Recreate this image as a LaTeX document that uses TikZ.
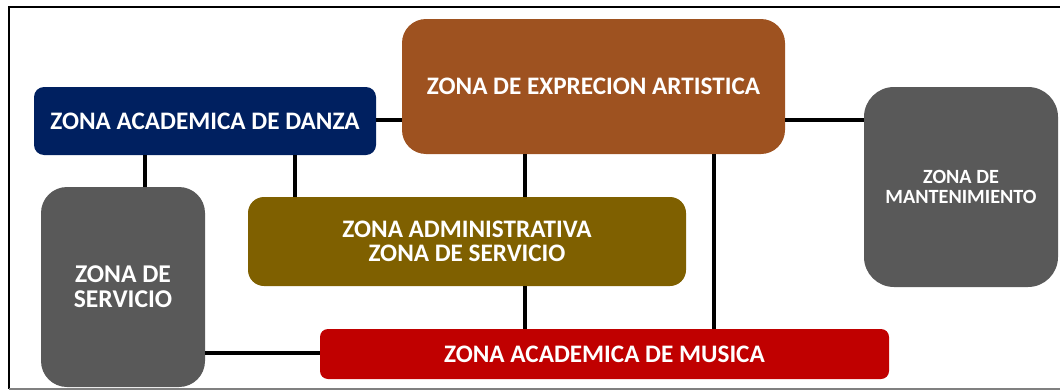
\documentclass[tikz,border=0pt]{standalone}
\usepackage{fontspec}
\setmainfont{Carlito}
\definecolor{danzablue}{HTML}{002060}
\definecolor{exprbrown}{HTML}{9E5220}
\definecolor{adminolive}{HTML}{7F6000}
\definecolor{musicred}{HTML}{C00000}
\definecolor{zonegray}{HTML}{595959}

\begin{document}
\begin{tikzpicture}[x=0.5pt,y=-0.5pt,
    zone/.style={inner sep=0pt, align=center, text=white, font=\fontsize{12.6}{12}\selectfont\bfseries},
    link/.style={black, line width=2pt}]
  \useasboundingbox (0,0) rectangle (1060,391);
  \draw [black, line width=1pt]    (1070,7) -- (9,7) -- (9,389);
  \draw [gray, line width=0.6pt]   (9,389) -- (1070,389);

  \node [zone, fill=danzablue, rounded corners=5pt, minimum width=171pt, minimum height=34pt] (danza) at (205,121) {ZONA ACADEMICA DE DANZA};
  \node [zone, fill=exprbrown, rounded corners=12pt, minimum width=191.5pt, minimum height=67.5pt] (expr) at (593.5,86.5) {ZONA DE EXPRECION ARTISTICA};
  \node [zone, fill=zonegray, rounded corners=15pt, minimum width=97pt, minimum height=100pt, font=\fontsize{10.1}{10}\selectfont\bfseries] (mant) at (961,187) {ZONA DE\\MANTENIMIENTO};
  \node [zone, fill=zonegray, rounded corners=13pt, minimum width=82pt, minimum height=100pt, font=\fontsize{12.8}{12.5}\selectfont\bfseries] (serv) at (123,287) {ZONA DE\\SERVICIO};
  \node [zone, fill=adminolive, rounded corners=8pt, minimum width=219pt, minimum height=44.5pt] (admin) at (467,241.5) {ZONA ADMINISTRATIVA\\ZONA DE SERVICIO};
  \node [zone, fill=musicred, rounded corners=4pt, minimum width=284.5pt, minimum height=25pt] (musica) at (604.5,354) {ZONA ACADEMICA DE MUSICA};

  \draw [link]    (danza.east |- 0,120) -- (expr.west |- 0,120);
  \draw [link]    (expr.east |- 0,120) -- (mant.west |- 0,120);
  \draw [link]    (danza.south -| 145,0) -- (serv.north -| 145,0);
  \draw [link]    (danza.south -| 295,0) -- (admin.north -| 295,0);
  \draw [link]    (expr.south -| 525,0) -- (admin.north -| 525,0);
  \draw [link]    (admin.south -| 525,0) -- (musica.north -| 525,0);
  \draw [link]    (expr.south -| 714,0) -- (musica.north -| 714,0);
  \draw [link]    (serv.east |- 0,353) -- (musica.west |- 0,353);
\end{tikzpicture}
\end{document}
